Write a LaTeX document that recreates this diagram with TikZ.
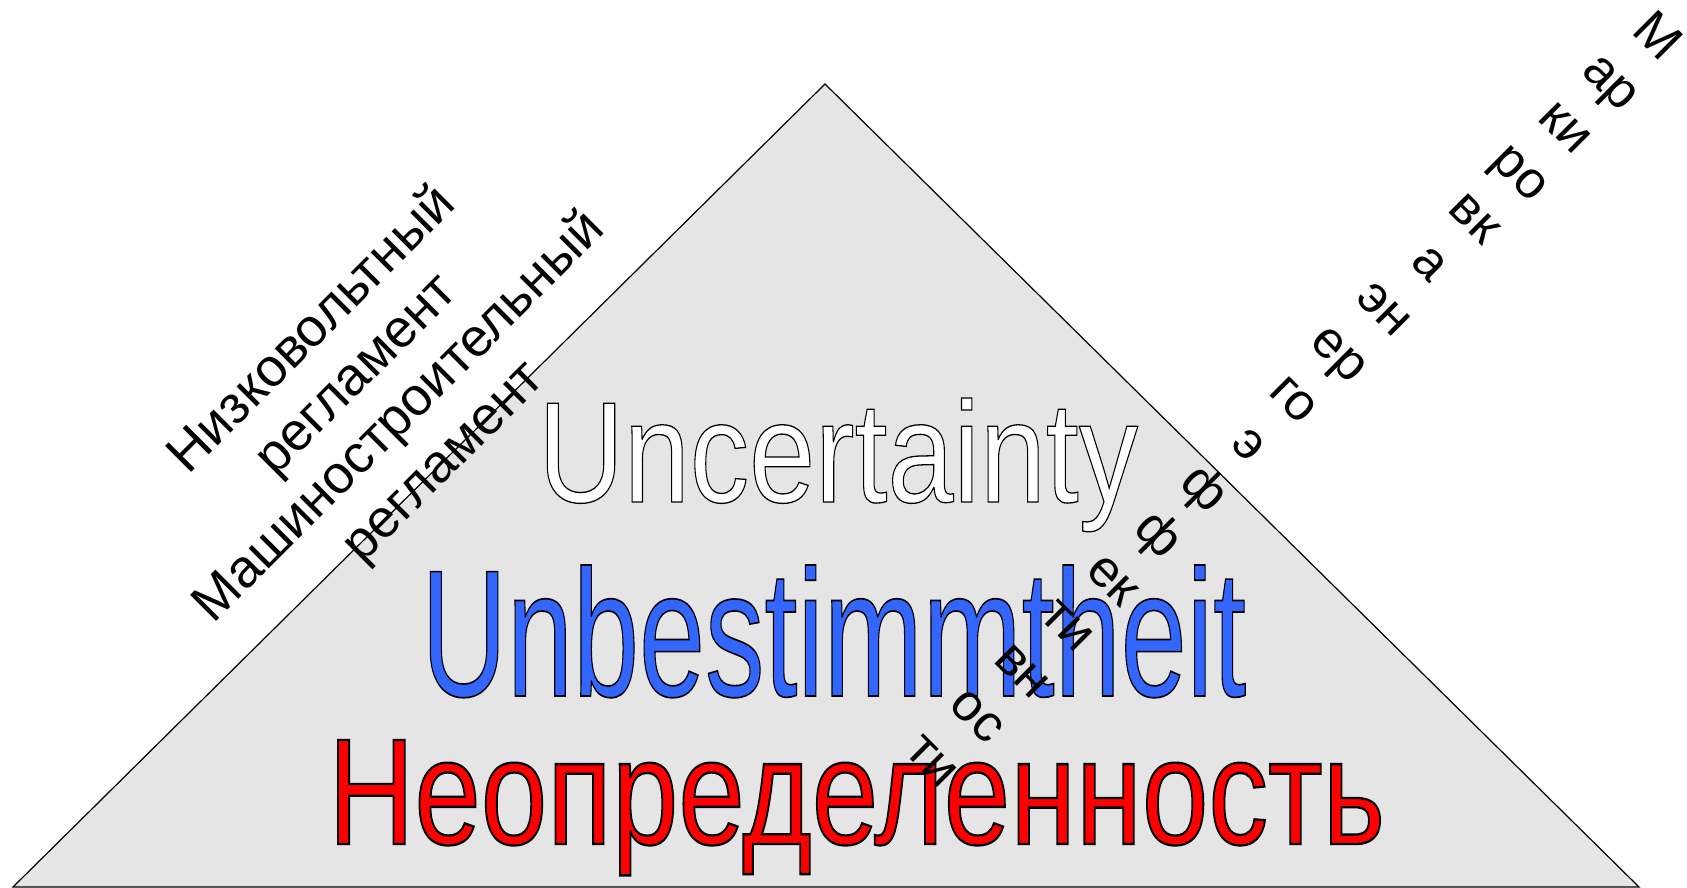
\documentclass[tikz,border=0pt]{standalone}
\usepackage{fontspec}
\setmainfont{Liberation Sans}
\usepackage{graphicx}
\definecolor{trifill}{HTML}{E5E5E5}
\definecolor{ubblue}{HTML}{3366FF}
\definecolor{nred}{HTML}{FF0000}
\newcommand{\outlinetext}[3]{{\color{#1}\special{pdf:literal direct #2}#3\special{pdf:literal direct 0 Tr}}}
\begin{document}
\begin{tikzpicture}[x=1pt,y=-1pt,
  bigword/.style={inner sep=0pt, anchor=base west},
  sidetext/.style={inner sep=0pt, anchor=base, font=\fontsize{53.5}{63}\selectfont},
  marktext/.style={inner sep=0pt, anchor=base, font=\fontsize{52}{64}\selectfont}]
\useasboundingbox (0,0) rectangle (1687,888);
\coordinate (L) at (13,887);
\coordinate (A) at (825,84);
\coordinate (R) at (1639,887);
\filldraw[fill=trifill, draw=black, line width=1.2pt] (L) -- (A) -- (R) -- cycle;
\node[bigword] (unc) at (538,502) {\resizebox{600pt}{104pt}{\fontsize{145}{150}\selectfont\outlinetext{white}{0 G 1.3 w 2 Tr}{Uncertainty}}};
\node[bigword] (unb) at (421,696) {\resizebox{825pt}{131pt}{\fontsize{183}{190}\selectfont\outlinetext{ubblue}{0 G 1.7 w 2 Tr}{Unbestimmtheit}}};
\node[bigword] (neo) at (328,844) {\resizebox{1057pt}{104pt}{\fontsize{145}{150}\selectfont\outlinetext{nred}{0 G 2.2 w 2 Tr}{Неопределенность}}};
\node[sidetext, rotate=45] (nizk) at (323,341) {\begin{tabular}[t]{@{}c@{}}Низковольтный\\регламент\end{tabular}};
\node[sidetext, rotate=45] (mash) at (410,428) {\begin{tabular}[t]{@{}c@{}}Машиностроительный\\регламент\end{tabular}};
\node[marktext, rotate=-45] (mark) at (1645.8,47.5) {\begin{tabular}[t]{@{}c@{}}М\\ар\\ки\\ро\\вк\\а\\эн\\ер\\го\\э\\ф\\ф\\ек\\ти\\вн\\ос\\ти\end{tabular}};
\end{tikzpicture}
\end{document}
